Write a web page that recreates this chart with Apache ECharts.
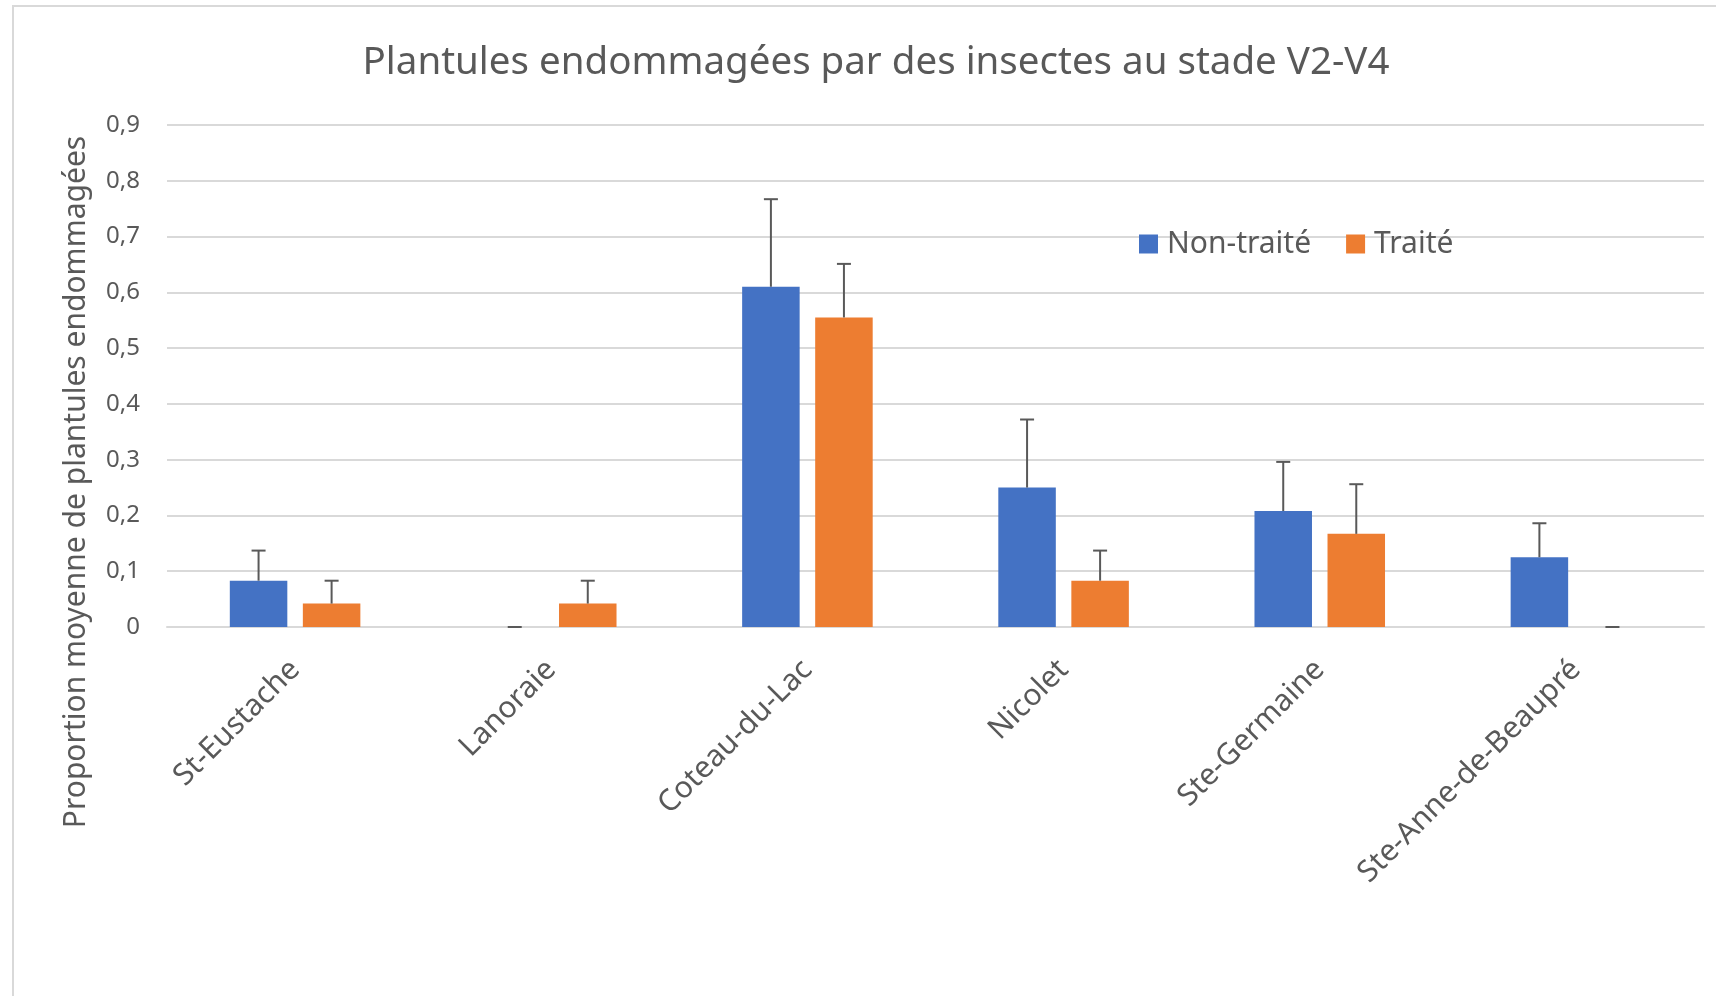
<!DOCTYPE html>
<html>
<head>
<meta charset="utf-8">
<script src="https://cdn.jsdelivr.net/npm/echarts@6/dist/echarts.min.js"></script>
<style>
  html, body { margin: 0; padding: 0; background: #ffffff; }
  #chart { width: 1716px; height: 996px; }
</style>
</head>
<body>
<div id="chart"></div>
<script>
// Sites
const categories = ['St-Eustache', 'Lanoraie', 'Coteau-du-Lac', 'Nicolet', 'Ste-Germaine', 'Ste-Anne-de-Beaupré'];
// Mean proportion of damaged seedlings
const nonTraite = [0.083, 0, 0.61, 0.25, 0.208, 0.125];
const traite = [0.042, 0.042, 0.555, 0.083, 0.167, 0];
// Upper error (positive direction only)
const nonTraiteErr = [0.054, 0, 0.157, 0.122, 0.088, 0.061];
const traiteErr = [0.041, 0.041, 0.096, 0.054, 0.089, 0];
// Y axis tick labels (French decimal comma)
const yTickLabels = ['0', '0,1', '0,2', '0,3', '0,4', '0,5', '0,6', '0,7', '0,8', '0,9'];

const seriesNames = ['Non-traité', 'Traité'];
const titleText = 'Plantules endommagées par des insectes au stade V2-V4';
const yAxisTitle = 'Proportion moyenne de plantules endommagées';

const FONT = '"Noto Sans", "Open Sans", sans-serif';
const TEXT = '#595959';
const GRID = '#d9d9d9';
const BAR_W = 0.2245;   // fraction of the category band
const BAR_GAP = 0.27;   // gap between the two bars, fraction of bar width

function errorSeries(name, values, errs, side) {
  return {
    name: name + ' erreur',
    type: 'custom',
    z: 5,
    silent: true,
    data: values.map((v, i) => [i, v, errs[i]]),
    encode: { x: 0, y: 1 },
    renderItem: function (params, api) {
      const i = api.value(0);
      const v = api.value(1);
      const e = api.value(2);
      const band = api.size([1, 0])[0];
      const bw = band * BAR_W;
      const off = side * (bw + bw * BAR_GAP) / 2;
      const base = api.coord([i, v]);
      const top = api.coord([i, v + e]);
      const x = base[0] + off;
      const style = { stroke: TEXT, lineWidth: 2 };
      return {
        type: 'group',
        children: [
          { type: 'line', shape: { x1: x, y1: base[1], x2: x, y2: top[1] }, style: style },
          { type: 'line', shape: { x1: x - 7, y1: top[1], x2: x + 7, y2: top[1] }, style: style }
        ]
      };
    }
  };
}

const chart = echarts.init(document.getElementById('chart'), null, { renderer: 'canvas' });
chart.setOption({
  animation: false,
  backgroundColor: '#ffffff',
  textStyle: { fontFamily: FONT },
  title: {
    text: titleText,
    left: 871,
    top: 39,
    textAlign: 'center',
    textStyle: { fontFamily: FONT, fontSize: 38.5, fontWeight: 'normal', color: TEXT }
  },
  legend: {
    data: seriesNames,
    left: 1134,
    top: 224,
    icon: 'rect',
    itemWidth: 19,
    itemHeight: 19,
    itemGap: 35,
    textStyle: { fontFamily: FONT, fontSize: 30, color: TEXT, padding: [0, 0, 0, 4] }
  },
  grid: { left: 167, right: 12, top: 125, bottom: 369, containLabel: false },
  xAxis: {
    type: 'category',
    data: categories,
    axisTick: { show: false },
    axisLine: { lineStyle: { color: GRID, width: 2 } },
    axisLabel: {
      interval: 0,
      rotate: 45,
      margin: 38,
      fontFamily: FONT,
      fontSize: 30,
      color: TEXT
    }
  },
  yAxis: {
    type: 'value',
    min: 0,
    max: 0.9,
    interval: 0.1,
    axisLine: { show: false },
    axisTick: { show: false },
    splitLine: { lineStyle: { color: GRID, width: 2 } },
    axisLabel: {
      margin: 27,
      fontFamily: FONT,
      fontSize: 24,
      color: TEXT,
      formatter: function (v) { return yTickLabels[Math.round(v * 10)]; }
    }
  },
  graphic: [
    {
      type: 'rect',
      silent: true,
      shape: { x: 13, y: 6, width: 1720, height: 1010 },
      style: { fill: 'none', stroke: GRID, lineWidth: 2 }
    },
    {
      type: 'text',
      silent: true,
      x: 76,
      y: 482,
      rotation: Math.PI / 2,
      style: {
        text: yAxisTitle,
        fontFamily: FONT,
        fontSize: 30,
        fill: TEXT,
        align: 'center',
        verticalAlign: 'middle'
      }
    }
  ],
  series: [
    {
      name: seriesNames[0],
      type: 'bar',
      data: nonTraite,
      barWidth: (BAR_W * 100) + '%',
      barGap: (BAR_GAP * 100) + '%',
      itemStyle: { color: '#4472C4' }
    },
    {
      name: seriesNames[1],
      type: 'bar',
      data: traite,
      barWidth: (BAR_W * 100) + '%',
      barGap: (BAR_GAP * 100) + '%',
      itemStyle: { color: '#ED7D31' }
    },
    errorSeries(seriesNames[0], nonTraite, nonTraiteErr, -1),
    errorSeries(seriesNames[1], traite, traiteErr, 1)
  ]
});
</script>
</body>
</html>
